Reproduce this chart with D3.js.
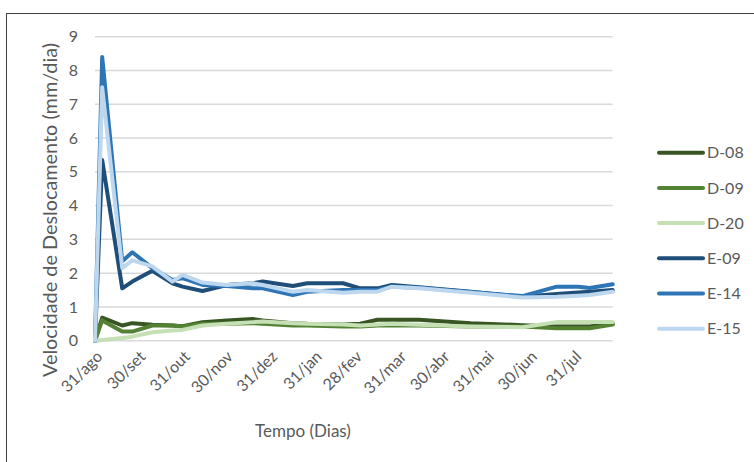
<!DOCTYPE html>
<html>
<head>
<meta charset="utf-8">
<script src="https://cdn.jsdelivr.net/npm/d3@7"></script>
<style>
  html, body { margin: 0; padding: 0; background: #fff; }
  svg { display: block; font-family: Lato, "Open Sans", sans-serif; }
</style>
</head>
<body>
<svg id="chart" width="754" height="462"></svg>
<script>
// Measurement dates (days after 31/ago)
const dates = ["2014-08-31","2014-09-05","2014-09-19","2014-09-26","2014-10-10","2014-10-24",
  "2014-10-31","2014-11-14","2014-12-01","2014-12-19","2014-12-26","2015-01-16","2015-01-26",
  "2015-02-20","2015-03-04","2015-03-16","2015-03-26","2015-04-14","2015-05-20","2015-06-25",
  "2015-07-19","2015-08-03","2015-08-11","2015-08-27"];

const seriesNames = ["D-08","D-09","D-20","E-09","E-14","E-15"];

const d08 = [0, 0.68, 0.45, 0.52, 0.47, 0.45, 0.43, 0.55, 0.6, 0.64, 0.6, 0.52, 0.5, 0.48, 0.5, 0.62, 0.62, 0.62, 0.52, 0.46, 0.42, 0.42, 0.42, 0.5];
const d09 = [0, 0.6, 0.27, 0.27, 0.45, 0.45, 0.42, 0.5, 0.5, 0.52, 0.5, 0.45, 0.45, 0.42, 0.42, 0.45, 0.45, 0.45, 0.42, 0.42, 0.37, 0.37, 0.37, 0.48];
const d20 = [0, 0.02, 0.08, 0.12, 0.25, 0.3, 0.32, 0.45, 0.5, 0.55, 0.57, 0.52, 0.5, 0.48, 0.45, 0.48, 0.5, 0.47, 0.42, 0.4, 0.55, 0.55, 0.55, 0.55];
const e09 = [0, 5.35, 1.55, 1.75, 2.07, 1.7, 1.6, 1.47, 1.65, 1.7, 1.75, 1.62, 1.7, 1.7, 1.55, 1.55, 1.65, 1.58, 1.45, 1.3, 1.38, 1.43, 1.45, 1.5];
const e14 = [0, 8.4, 2.35, 2.62, 2.15, 1.8, 1.85, 1.65, 1.62, 1.55, 1.55, 1.35, 1.45, 1.5, 1.5, 1.5, 1.6, 1.57, 1.44, 1.32, 1.6, 1.6, 1.56, 1.67];
const e15 = [0, 7.5, 2.15, 2.38, 2.2, 1.75, 1.95, 1.72, 1.65, 1.7, 1.65, 1.45, 1.5, 1.42, 1.45, 1.45, 1.6, 1.55, 1.42, 1.28, 1.3, 1.33, 1.35, 1.45];

const seriesColors = ["#375623","#548235","#C5E0B4","#1F4E79","#2E75B6","#BDD7EE"];

const yTicks = [0,1,2,3,4,5,6,7,8,9];
const tickDates = ["2014-08-31","2014-09-30","2014-10-31","2014-11-30","2014-12-31","2015-01-31",
  "2015-02-28","2015-03-31","2015-04-30","2015-05-31","2015-06-30","2015-07-31"];
const tickLabels = ["31/ago","30/set","31/out","30/nov","31/dez","31/jan","28/fev","31/mar",
  "30/abr","31/mai","30/jun","31/jul"];

const parse = d3.utcParse("%Y-%m-%d");
const xDates = dates.map(parse);
const values = [d08, d09, d20, e09, e14, e15];

const svg = d3.select("#chart");
const plot = { left: 95, right: 612.7, top: 36.7, bottom: 340.7 };

// Outer frame of the figure box
svg.append("rect")
  .attr("x", 6.5).attr("y", 13.5)
  .attr("width", 800).attr("height", 500)
  .attr("fill", "none").attr("stroke", "#404040").attr("stroke-width", 1);

const x = d3.scaleUtc()
  .domain([xDates[0], xDates[xDates.length - 1]])
  .range([plot.left, plot.right]);
const y = d3.scaleLinear().domain([0, 9]).range([plot.bottom, plot.top]);

// Horizontal gridlines
svg.append("g").selectAll("line").data(yTicks).join("line")
  .attr("x1", plot.left).attr("x2", plot.right)
  .attr("y1", d => y(d)).attr("y2", d => y(d))
  .attr("stroke", "#D9D9D9").attr("stroke-width", 1.5);

// Y axis labels
const yAxis = d3.axisLeft(y).tickValues(yTicks).tickSize(0).tickPadding(0);
svg.append("g").attr("transform", `translate(${plot.left - 17},0)`).call(yAxis)
  .call(g => g.select(".domain").remove())
  .call(g => g.selectAll("text").attr("fill", "#595959").style("font-size", "16px").style("font-family", "Lato, sans-serif"));

// X axis labels, rotated
const tickParsed = tickDates.map(parse);
const xAxis = d3.axisBottom(x).tickValues(tickParsed).tickSize(0)
  .tickFormat((d, i) => tickLabels[i]);
svg.append("g").attr("transform", `translate(0,${plot.bottom})`).call(xAxis)
  .call(g => g.select(".domain").remove())
  .call(g => g.selectAll("text")
    .attr("fill", "#595959")
    .style("font-size", "16px").style("font-family", "Lato, sans-serif")
    .attr("text-anchor", "end")
    .attr("dy", "0.35em")
    .attr("transform", "translate(4,13) rotate(-45)")
    .attr("y", 0).attr("x", 0));

// Series lines
const line = d3.line().x((d, i) => x(xDates[i])).y(d => y(d));
svg.append("g").selectAll("path").data(values).join("path")
  .attr("d", d => line(d))
  .attr("fill", "none")
  .attr("stroke", (d, i) => seriesColors[i])
  .attr("stroke-width", 4)
  .attr("stroke-linejoin", "round")
  .attr("stroke-linecap", "round");

// Axis titles
svg.append("g")
  .attr("transform", "translate(49,210)")
  .append("text")
  .attr("transform", "rotate(-90)")
  .attr("text-anchor", "middle")
  .attr("dominant-baseline", "central")
  .attr("textLength", 334)
  .attr("lengthAdjust", "spacingAndGlyphs")
  .attr("fill", "#595959").style("font-size", "19px")
  .text("Velocidade de Deslocamento (mm/dia)");
svg.append("text")
  .attr("x", 303).attr("y", 437)
  .attr("text-anchor", "middle")
  .attr("fill", "#595959").style("font-size", "17px")
  .text("Tempo (Dias)");

// Legend
const legend = svg.append("g").selectAll("g").data(seriesNames).join("g")
  .attr("transform", (d, i) => `translate(659,${152.7 + i * 35.2})`);
legend.append("line")
  .attr("x1", 0).attr("x2", 44).attr("y1", 0).attr("y2", 0)
  .attr("stroke", (d, i) => seriesColors[i]).attr("stroke-width", 4)
  .attr("stroke-linecap", "round");
legend.append("text")
  .attr("x", 48).attr("y", 0).attr("dy", "0.35em")
  .attr("fill", "#595959").style("font-size", "16px")
  .text(d => d);
</script>
</body>
</html>
